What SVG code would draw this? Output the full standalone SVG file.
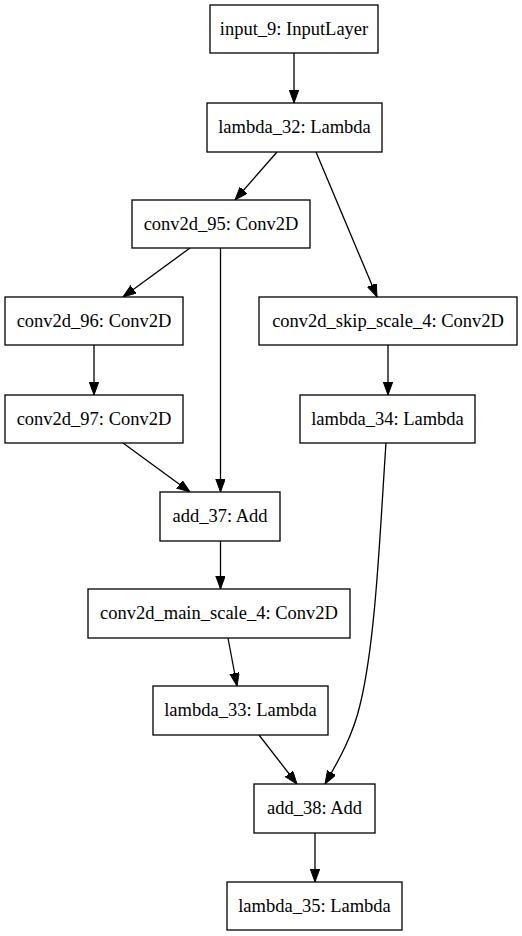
<svg xmlns="http://www.w3.org/2000/svg" width="522" height="936" viewBox="0 0 522 936">
<style>
.n rect{fill:#fff;stroke:#000;stroke-width:1.3}
.n text{font-family:"Liberation Serif","Times New Roman",serif;font-size:18.5px;text-anchor:middle;fill:#000}
.e path{fill:none;stroke:#000;stroke-width:1.3;marker-end:url(#ah)}
</style>
<defs>
<marker id="ah" markerUnits="userSpaceOnUse" markerWidth="14" markerHeight="11" refX="13" refY="4.7" orient="auto" viewBox="0 0 14 11">
<path d="M0,0 L13,4.7 L0,9.4 Z" fill="#000" stroke="#000" stroke-width="1"/>
</marker>
</defs>
<rect width="522" height="936" fill="#fff"/>
<g id="edges" class="e">
<path d="M294,53 L294,103"/>
<path d="M277,152 L235,200"/>
<path d="M316,152 L377,297"/>
<path d="M190,248 L123,297"/>
<path d="M220.5,248 L220.5,492"/>
<path d="M94,345 L94,395"/>
<path d="M388,345 L388,395"/>
<path d="M123,443 L190,492"/>
<path d="M220.5,541 L220.5,589"/>
<path d="M228,638 L237,686"/>
<path d="M259,735 L297,784"/>
<path d="M386,443 C380,530 376,640 360,705 C353,735 339,760 325,784"/>
<path d="M315,833 L315,882"/>
</g>
<g id="input_9" class="n"><rect x="210" y="5" width="168" height="48"/><text x="294" y="35">input_9: InputLayer</text></g>
<g id="lambda_32" class="n"><rect x="207" y="103" width="175" height="49"/><text x="294.5" y="133">lambda_32: Lambda</text></g>
<g id="conv2d_95" class="n"><rect x="132" y="200" width="178" height="48"/><text x="221" y="230">conv2d_95: Conv2D</text></g>
<g id="conv2d_96" class="n"><rect x="5" y="297" width="178" height="48"/><text x="94" y="327">conv2d_96: Conv2D</text></g>
<g id="conv2d_skip_scale_4" class="n"><rect x="259" y="297" width="258" height="48"/><text x="388" y="327">conv2d_skip_scale_4: Conv2D</text></g>
<g id="conv2d_97" class="n"><rect x="5" y="395" width="178" height="48"/><text x="94" y="425">conv2d_97: Conv2D</text></g>
<g id="lambda_34" class="n"><rect x="300" y="395" width="175" height="48"/><text x="387.5" y="425">lambda_34: Lambda</text></g>
<g id="add_37" class="n"><rect x="160" y="492" width="120" height="49"/><text x="220" y="522">add_37: Add</text></g>
<g id="conv2d_main_scale_4" class="n"><rect x="88" y="589" width="262" height="49"/><text x="219" y="619">conv2d_main_scale_4: Conv2D</text></g>
<g id="lambda_33" class="n"><rect x="153" y="686" width="175" height="49"/><text x="240.5" y="716">lambda_33: Lambda</text></g>
<g id="add_38" class="n"><rect x="254" y="784" width="121" height="49"/><text x="314.5" y="814">add_38: Add</text></g>
<g id="lambda_35" class="n"><rect x="227" y="882" width="175" height="48"/><text x="314.5" y="912">lambda_35: Lambda</text></g>
</svg>
